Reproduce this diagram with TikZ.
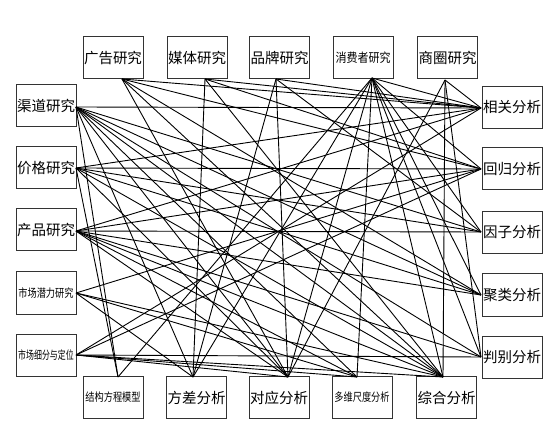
\documentclass[tikz,border=0pt]{standalone}
\usepackage{fontspec}
\setmainfont{Noto Sans CJK SC}
\newcommand\sqz[2]{\scalebox{#1}[1]{#2}}
\begin{document}
\begin{tikzpicture}[x=1pt,y=-1pt,
  box/.style={draw=black!80, line width=1pt, minimum width=60pt, minimum height=42pt, inner sep=0pt, font=\fontsize{14.5}{15}\selectfont},
  five/.style={font=\fontsize{12.5}{12.5}\selectfont},
  six/.style={font=\fontsize{11.5}{11.5}\selectfont},
  link/.style={draw=black, line width=0.9pt}]
\useasboundingbox (0,0) rectangle (555,433);
% top row
\node[box] (adv) at (113,58) {广告研究};
\node[box] (media) at (197,58) {媒体研究};
\node[box] (brand) at (279.5,58) {品牌研究};
\node[box,five] (cons) at (363,58) {\sqz{0.88}{消费者研究}};
\node[box] (area) at (447.5,58) {商圈研究};
% left column
\node[box] (chan) at (46,106) {渠道研究};
\node[box] (price) at (46,167.5) {价格研究};
\node[box] (prod) at (46,230) {产品研究};
\node[box,six] (pot) at (46,293) {\sqz{0.8}{市场潜力研究}};
\node[box,six] (seg) at (46,355) {\sqz{0.69}{市场细分与定位}};
% right column
\node[box] (corr) at (512,107.5) {相关分析};
\node[box] (regr) at (512,169) {回归分析};
\node[box] (fact) at (512,232.5) {因子分析};
\node[box] (clus) at (512,295) {聚类分析};
\node[box] (disc) at (512,357.5) {判别分析};
% bottom row
\node[box,six] (sem) at (113,397.5) {\sqz{0.8}{结构方程模型}};
\node[box] (anova) at (196.5,397.5) {方差分析};
\node[box] (corresp) at (279,397.5) {对应分析};
\node[box,six] (mds) at (362,397.5) {\sqz{0.8}{多维尺度分析}};
\node[box] (comp) at (446.5,397.5) {综合分析};
% connector end points
\coordinate (chan-o) at (76,107);
\coordinate (price-o) at (76,168);
\coordinate (prod-o) at (76,231);
\coordinate (pot-o) at (76,293);
\coordinate (seg-o) at (76,355);
\coordinate (adv-o) at (122,79);
\coordinate (media-o) at (205,79);
\coordinate (brand-o) at (276,79);
\coordinate (cons-o) at (372,78);
\coordinate (area-o) at (445,80);
\coordinate (corr-i) at (481,108);
\coordinate (regr-i) at (481,169);
\coordinate (fact-i) at (481,232);
\coordinate (clus-i) at (481,295);
\coordinate (disc-i) at (481,357);
\coordinate (sem-i) at (118,377);
\coordinate (anova-i) at (193,377);
\coordinate (corresp-i) at (288,377);
\coordinate (mds-i) at (357,377);
\coordinate (comp-i) at (443,377);
% connectors
\foreach \s/\t in {
  chan/corr, chan/fact, chan/clus, chan/disc, chan/sem, chan/anova, chan/corresp, chan/mds, chan/comp,
  price/corr, price/regr, price/fact, price/clus, price/sem, price/corresp, price/comp,
  prod/corr, prod/regr, prod/fact, prod/clus, prod/disc, prod/corresp, prod/mds, prod/comp,
  pot/regr, pot/anova, pot/mds, pot/comp,
  seg/corr, seg/regr, seg/disc, seg/corresp, seg/mds, seg/comp,
  adv/corr, adv/regr, adv/clus, adv/corresp, adv/comp,
  media/corr, media/regr, media/anova, media/comp,
  brand/corr, brand/fact, brand/corresp, brand/anova,
  cons/corr, cons/regr, cons/fact, cons/clus, cons/disc, cons/sem, cons/anova, cons/corresp, cons/mds, cons/comp,
  area/corr, area/corresp, area/disc, area/comp}
  \draw[link] (\s-o) -- (\t-i);
\end{tikzpicture}
\end{document}
